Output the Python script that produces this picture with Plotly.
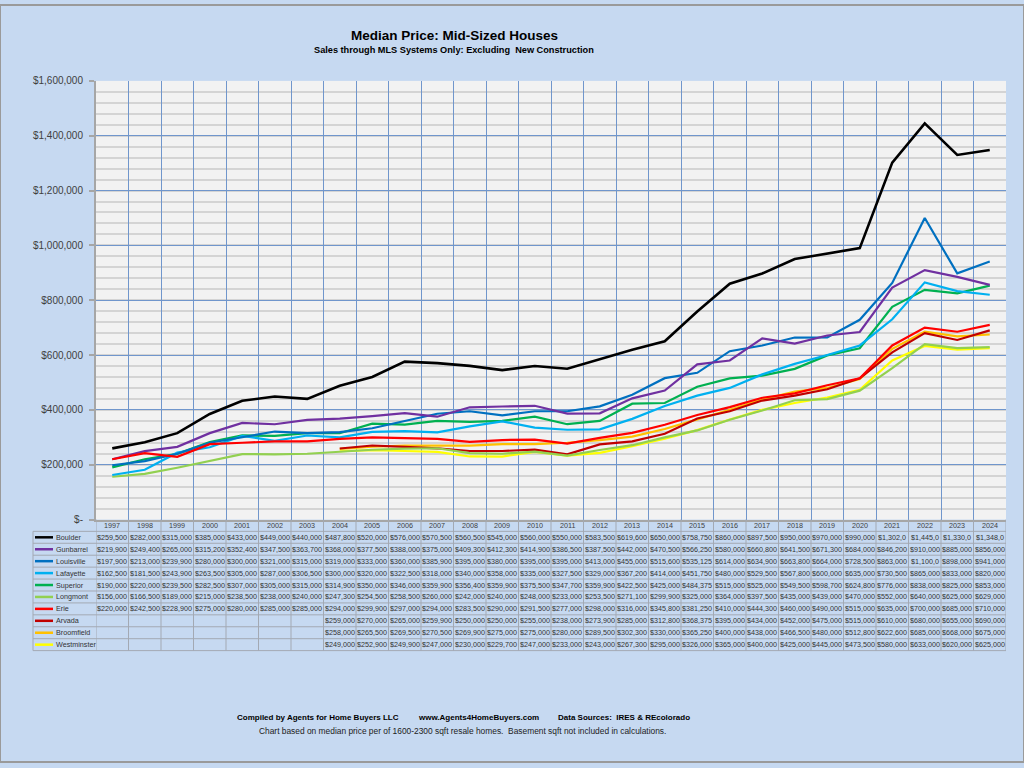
import plotly.graph_objects as go

years = list(range(1997, 2025))
late_years = list(range(2004, 2025))

boulder = [259500, 282000, 315000, 385000, 433000, 449000, 440000, 487800, 520000, 576000,
           570500, 560500, 545000, 560000, 550000, 583500, 619600, 650000, 758750, 860000,
           897500, 950000, 970000, 990000, 1302000, 1445000, 1330000, 1348000]
gunbarrel = [219900, 249400, 265000, 315200, 352400, 347500, 363700, 368000, 377500, 388000,
             375000, 409300, 412300, 414900, 386500, 387500, 442000, 470500, 566250, 580000,
             660800, 641500, 671300, 684000, 846200, 910000, 885000, 856000]
louisville = [197900, 213000, 239900, 280000, 300000, 321000, 315000, 319000, 333000, 360000,
              385900, 395000, 380000, 395000, 395000, 413000, 455000, 515600, 535125, 614000,
              634900, 663800, 664000, 728500, 863000, 1100000, 898000, 941000]
lafayette = [162500, 181500, 243900, 263500, 305000, 287000, 306500, 300000, 320000, 322500,
             318000, 340000, 358000, 335000, 327500, 329000, 367200, 414000, 451750, 480000,
             529500, 567800, 600000, 635000, 730500, 865000, 833000, 820000]
superior = [190000, 220000, 239500, 282500, 307000, 305000, 315000, 314900, 350000, 346000,
            359900, 356400, 359900, 375500, 347700, 359900, 422500, 425000, 484375, 515000,
            525000, 549500, 598700, 624800, 776000, 838000, 825000, 853000]
longmont = [156000, 166500, 189000, 215000, 238500, 238000, 240000, 247300, 254500, 258500,
            260000, 242000, 240000, 248000, 233000, 253500, 271100, 299900, 325000, 364000,
            397500, 435000, 439000, 470000, 552000, 640000, 625000, 629000]
erie = [220000, 242500, 228900, 275000, 280000, 285000, 285000, 294000, 299900, 297000,
        294000, 283500, 290000, 291500, 277000, 298000, 316000, 345800, 381250, 410000,
        444300, 460000, 490000, 515000, 635000, 700000, 685000, 710000]
arvada = [259000, 270000, 265000, 259900, 250000, 250000, 255000, 238000, 273900, 285000,
          312800, 368375, 395000, 434000, 452000, 475000, 515000, 610000, 680000, 655000, 690000]
broomfield = [258000, 265500, 269500, 270500, 269900, 275000, 275000, 280000, 289500, 302300,
              330000, 365250, 400000, 438000, 466500, 480000, 512800, 622600, 685000, 668000, 675000]
westminster = [249000, 252900, 249900, 247000, 230000, 229700, 247000, 233000, 243000, 267300,
               295000, 326000, 365000, 400000, 425000, 445000, 473500, 580000, 633000, 620000, 625000]

cities = ["Boulder", "Gunbarrel", "Louisville", "Lafayette", "Superior",
          "Longmont", "Erie", "Arvada", "Broomfield", "Westminster"]
series = [boulder, gunbarrel, louisville, lafayette, superior,
          longmont, erie, arvada, broomfield, westminster]
colors = ["#000000", "#7030a0", "#0070c0", "#00b0f0", "#00b050",
          "#92d050", "#ff0000", "#c00000", "#ffc000", "#ffff00"]

y_tick_vals = [0, 200000, 400000, 600000, 800000, 1000000, 1200000, 1400000, 1600000]
y_tick_text = ["$-", "$200,000", "$400,000", "$600,000", "$800,000",
               "$1,000,000", "$1,200,000", "$1,400,000", "$1,600,000"]

W, H = 1024, 768
PAPER = "#c6d9f1"
GRID_BLUE = "#7096cc"
TABLE_LINE = "#a3a9b3"
FONT = "Liberation Sans"

TBL_LEFT = 33
PLOT_LEFT, PLOT_RIGHT = 96, 1006
PLOT_TOP, PLOT_BOTTOM = 77, 522
HDR_H = 12
ROW_H = 12.1


def py(v):
    return 1 - v / H


def px(v):
    return v / W


fig = go.Figure()

order = [9, 8, 7, 5, 4, 3, 2, 1, 6, 0]
for i in order:
    vals = series[i]
    xs = years if len(vals) == len(years) else late_years
    fig.add_trace(go.Scatter(
        x=xs, y=vals, mode="lines", name=cities[i],
        line=dict(color=colors[i], width=2.6 if i == 0 else 2.2),
        showlegend=False, hoverinfo="skip"))


def fmt(v):
    # cells are too narrow for seven-digit values; they are cut like in the source table
    return "${:,}".format(v)[:8]


annotations = []
shapes = [dict(type="rect", xref="paper", yref="paper", x0=0, y0=0, x1=1, y1=1,
               line=dict(color="#9a9a9a", width=2), fillcolor="rgba(0,0,0,0)", layer="above")]

rows_top = PLOT_BOTTOM + HDR_H
rows_bottom = rows_top + ROW_H * len(cities)

for k in range(len(cities) + 1):
    yk = rows_top + ROW_H * k
    shapes.append(dict(type="line", xref="paper", yref="paper",
                       x0=px(TBL_LEFT), x1=px(PLOT_RIGHT), y0=py(yk), y1=py(yk),
                       line=dict(color=TABLE_LINE, width=1)))
shapes.append(dict(type="line", xref="paper", yref="paper",
                   x0=px(TBL_LEFT), x1=px(TBL_LEFT), y0=py(rows_top), y1=py(rows_bottom),
                   line=dict(color=TABLE_LINE, width=1)))
for yr in years + [years[-1] + 1]:
    shapes.append(dict(type="line", xref="x", yref="paper",
                       x0=yr - 0.5, x1=yr - 0.5, y0=py(PLOT_BOTTOM), y1=py(rows_bottom),
                       line=dict(color=TABLE_LINE, width=1)))

tfont = dict(family=FONT, size=7.2, color="#333333")
for yr in years:
    annotations.append(dict(text=str(yr), x=yr, y=py(PLOT_BOTTOM + HDR_H / 2),
                            xref="x", yref="paper", xanchor="center", yanchor="middle",
                            showarrow=False, font=dict(family=FONT, size=7.2, color="#404040")))
for r, (name, vals, c) in enumerate(zip(cities, series, colors)):
    yc = rows_top + ROW_H * (r + 0.5)
    shapes.append(dict(type="line", xref="paper", yref="paper",
                       x0=px(35), x1=px(53), y0=py(yc), y1=py(yc),
                       line=dict(color=c, width=2.5)))
    annotations.append(dict(text=name, x=px(54), y=py(yc), xref="paper", yref="paper",
                            xanchor="left", yanchor="middle", showarrow=False, font=tfont))
    xs = years if len(vals) == len(years) else late_years
    for yr, v in zip(xs, vals):
        annotations.append(dict(text=fmt(v), x=yr, y=py(yc), xref="x", yref="paper",
                                xanchor="center", yanchor="middle", showarrow=False,
                                font=tfont))


def ann(text, x, y, size, color="#000000"):
    return dict(text=text, x=px(x), y=py(y), xref="paper", yref="paper",
                xanchor="center", yanchor="middle", showarrow=False,
                font=dict(family=FONT, size=size, color=color))


annotations += [
    ann("<b>Median Price: Mid-Sized Houses</b>", 454, 31, 13.5),
    ann("<b>Sales through MLS Systems Only: Excluding  New Construction</b>", 454, 46, 9.2),
    ann("<b>Compiled by Agents for Home Buyers LLC</b>", 317.5, 723, 8),
    ann("<b>www.Agents4HomeBuyers.com</b>", 478.5, 723, 8),
    ann("<b>Data Sources:  IRES &amp; REcolorado</b>", 623.5, 723, 8),
    ann("Chart based on median price per of 1600-2300 sqft resale homes.  Basement sqft not included in calculations.",
        462, 737, 8.4, "#222222"),
]

fig.update_layout(
    width=W, height=H,
    margin=dict(l=0, r=0, t=0, b=0),
    paper_bgcolor=PAPER,
    plot_bgcolor="#f2f2f2",
    font=dict(family=FONT, color="#404040"),
    xaxis=dict(
        domain=[px(PLOT_LEFT), px(PLOT_RIGHT)],
        range=[years[0] - 0.5, years[-1] + 0.5],
        tick0=years[0] - 0.5, dtick=1,
        showticklabels=False, ticks="",
        showgrid=True, gridcolor=GRID_BLUE, gridwidth=1.3,
        showline=True, linecolor="#a6a6a6", linewidth=1.5,
        zeroline=False, fixedrange=True),
    yaxis=dict(
        domain=[py(PLOT_BOTTOM), py(PLOT_TOP)],
        range=[0, 1600000],
        tickvals=y_tick_vals, ticktext=y_tick_text,
        ticks="outside", ticklen=5, tickcolor="#a6a6a6", tickwidth=1.5,
        ticklabelstandoff=4,
        tickfont=dict(family=FONT, size=10, color="#404040"),
        showgrid=True, gridcolor=GRID_BLUE, gridwidth=1.3,
        minor=dict(dtick=40000, showgrid=True, gridcolor="#d4d4d4", gridwidth=2, ticks=""),
        showline=True, linecolor="#a6a6a6", linewidth=2,
        zeroline=False, fixedrange=True),
    shapes=shapes,
    annotations=annotations,
)

fig.write_html("out.html", config={"displayModeBar": False},
               post_script="document.body.style.margin='0';")
